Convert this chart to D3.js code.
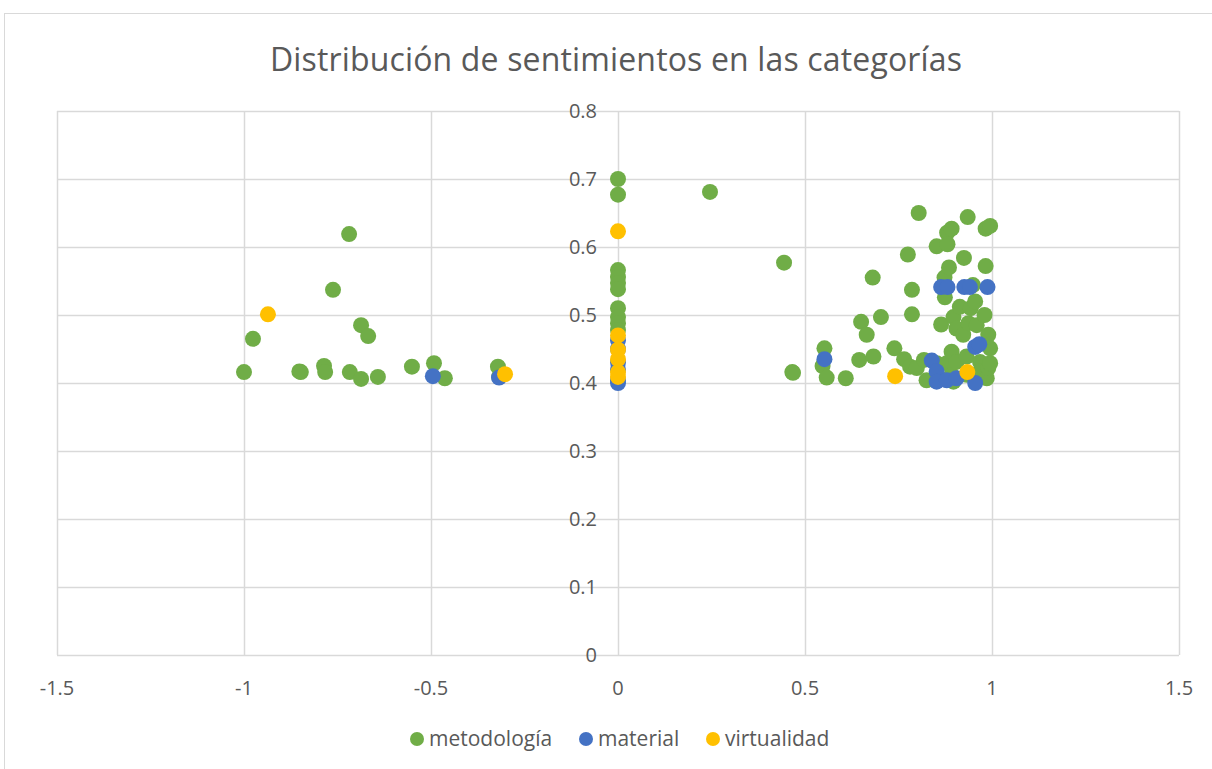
<!DOCTYPE html>
<html>
<head>
<meta charset="utf-8">
<script src="https://cdn.jsdelivr.net/npm/d3@7"></script>
<style>
    body { margin: 0; background: #fff; }
    text { font-family: "Open Sans", "Noto Sans", sans-serif; fill: #595959; }
</style>
</head>
<body>
<div class="chart"></div>
<script>
// series values: [x, y]
var metodologia = [
    [-1.0, 0.416], [-0.976, 0.465], [-0.852, 0.417], [-0.848, 0.416], [-0.786, 0.425], [-0.783, 0.416],
    [-0.762, 0.537], [-0.719, 0.619], [-0.717, 0.416], [-0.687, 0.485], [-0.687, 0.406], [-0.668, 0.469],
    [-0.642, 0.409], [-0.551, 0.424], [-0.492, 0.429], [-0.463, 0.407], [-0.321, 0.424], [-0.318, 0.409],
    [0, 0.700], [0, 0.677], [0, 0.566], [0, 0.556], [0, 0.547], [0, 0.538], [0, 0.510], [0, 0.497],
    [0, 0.488], [0, 0.478],
    [0.246, 0.681], [0.444, 0.577], [0.466, 0.416], [0.468, 0.415],
    [0.552, 0.451], [0.547, 0.425], [0.558, 0.408], [0.609, 0.407], [0.645, 0.434], [0.650, 0.490],
    [0.665, 0.471], [0.681, 0.555], [0.683, 0.439], [0.703, 0.497], [0.739, 0.451], [0.765, 0.435],
    [0.775, 0.589], [0.781, 0.424], [0.786, 0.537], [0.786, 0.501], [0.799, 0.422], [0.804, 0.650],
    [0.818, 0.434], [0.825, 0.404], [0.852, 0.601], [0.852, 0.429], [0.864, 0.486], [0.873, 0.555],
    [0.874, 0.526], [0.879, 0.429], [0.880, 0.621], [0.881, 0.604], [0.885, 0.570], [0.892, 0.627],
    [0.892, 0.446], [0.892, 0.412], [0.897, 0.497], [0.897, 0.402], [0.905, 0.480], [0.905, 0.431],
    [0.914, 0.512], [0.923, 0.471], [0.925, 0.584], [0.932, 0.439], [0.932, 0.412], [0.935, 0.644],
    [0.937, 0.488], [0.943, 0.510], [0.949, 0.544], [0.955, 0.520], [0.959, 0.485], [0.968, 0.431],
    [0.968, 0.417], [0.980, 0.500], [0.983, 0.627], [0.983, 0.572], [0.986, 0.407], [0.990, 0.471],
    [0.990, 0.422], [0.995, 0.631], [0.995, 0.451], [0.995, 0.429]
];

var material = [
    [-0.495, 0.410], [-0.318, 0.408],
    [0, 0.463], [0, 0.450], [0, 0.430], [0, 0.420], [0, 0.404], [0, 0.400],
    [0.552, 0.435], [0.839, 0.433], [0.852, 0.417], [0.852, 0.402], [0.864, 0.541], [0.881, 0.541],
    [0.879, 0.404], [0.905, 0.407], [0.926, 0.541], [0.941, 0.541], [0.955, 0.453], [0.966, 0.457],
    [0.955, 0.400], [0.988, 0.541]
];

var virtualidad = [
    [-0.936, 0.501], [-0.302, 0.413],
    [0, 0.623], [0, 0.470], [0, 0.449], [0, 0.435], [0, 0.416], [0, 0.409],
    [0.741, 0.410], [0.934, 0.416]
];

var xTicks = [-1.5, -1, -0.5, 0, 0.5, 1, 1.5];
var yTicks = [0, 0.1, 0.2, 0.3, 0.4, 0.5, 0.6, 0.7, 0.8];
var seriesNames = ["metodología", "material", "virtualidad"];
var seriesColors = ["#70AD47", "#4472C4", "#FFC000"];

var w = 1212;
var h = 769;

var xScale = d3.scaleLinear()
                .domain([-1.5, 1.5])
                .range([57, 1179]);

var yScale = d3.scaleLinear()
                .domain([0, 0.8])
                .range([655, 111]);

var svg = d3.select(".chart")
            .append("svg")
            .attr("width", w)
            .attr("height", h);

// chart border
svg.append("rect")
    .attr("x", 4.5)
    .attr("y", 13.5)
    .attr("width", w + 10)
    .attr("height", h + 10)
    .attr("fill", "none")
    .attr("stroke", "#d9d9d9");

svg.append("text")
    .attr("x", 616)
    .attr("y", 71)
    .attr("text-anchor", "middle")
    .style("font-size", "32px")
    .attr("textLength", 692)
    .text("Distribución de sentimientos en las categorías");

// gridlines
svg.selectAll(".vgrid")
    .data(xTicks)
    .enter()
    .append("line")
    .attr("x1", function(d){ return Math.round(xScale(d)) + 0.5; })
    .attr("x2", function(d){ return Math.round(xScale(d)) + 0.5; })
    .attr("y1", yScale(0.8))
    .attr("y2", yScale(0))
    .attr("stroke", "#d9d9d9")
    .attr("stroke-width", 1.5);

svg.selectAll(".hgrid")
    .data(yTicks)
    .enter()
    .append("line")
    .attr("x1", xScale(-1.5))
    .attr("x2", xScale(1.5))
    .attr("y1", function(d){ return Math.round(yScale(d)) + 0.5; })
    .attr("y2", function(d){ return Math.round(yScale(d)) + 0.5; })
    .attr("stroke", "#d9d9d9")
    .attr("stroke-width", 1.5);

// y tick labels sit next to the x=0 axis
svg.selectAll(".ylab")
    .data(yTicks)
    .enter()
    .append("text")
    .attr("x", xScale(0) - 21)
    .attr("y", function(d){ return yScale(d) + 7; })
    .attr("text-anchor", "end")
    .style("font-size", "20px")
    .text(function(d){ return +d.toFixed(1); });

svg.selectAll(".xlab")
    .data(xTicks)
    .enter()
    .append("text")
    .attr("x", function(d){ return xScale(d); })
    .attr("y", 695)
    .attr("text-anchor", "middle")
    .style("font-size", "20px")
    .text(function(d){ return d; });

// points, drawn in series order so yellow ends up on top
[metodologia, material, virtualidad].forEach(function(series, i){
    svg.append("g")
        .selectAll("circle")
        .data(series)
        .enter()
        .append("circle")
        .attr("cx", function(d){ return xScale(d[0]); })
        .attr("cy", function(d){ return yScale(d[1]); })
        .attr("r", 8)
        .attr("fill", seriesColors[i]);
});

// legend
var legendX = [417, 586, 713];
seriesNames.forEach(function(name, i){
    svg.append("circle")
        .attr("cx", legendX[i])
        .attr("cy", 739)
        .attr("r", 7)
        .attr("fill", seriesColors[i]);
    svg.append("text")
        .attr("x", legendX[i] + 12)
        .attr("y", 746)
        .style("font-size", "21px")
        .text(name);
});
</script>
</body>
</html>
